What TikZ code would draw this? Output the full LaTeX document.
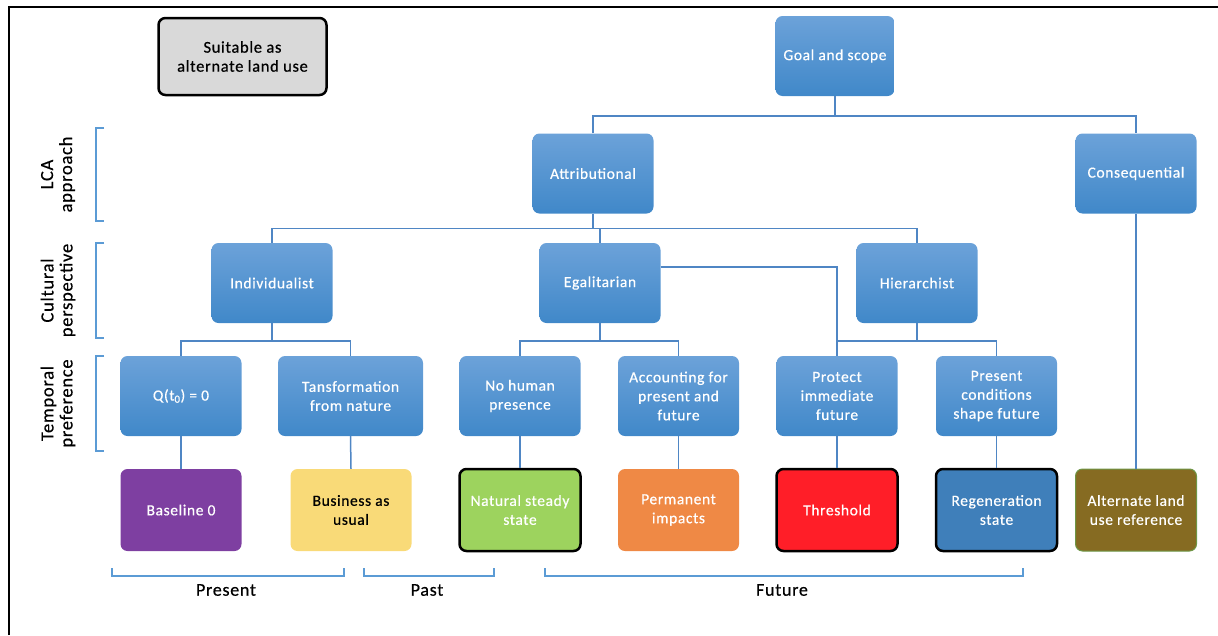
\documentclass[tikz,border=0pt]{standalone}
\usepackage{fontspec}
\setmainfont{Carlito}[FakeBold=0.5,LetterSpace=4]
\usepackage{tikz}
\definecolor{boxtop}{RGB}{108,162,217}
\definecolor{boxbot}{RGB}{64,136,201}
\definecolor{linkblue}{RGB}{79,134,196}
\definecolor{brkblue}{RGB}{91,155,213}
\definecolor{lcapurple}{RGB}{126,63,161}
\definecolor{lcayellow}{RGB}{249,218,120}
\definecolor{lcagreen}{RGB}{157,211,94}
\definecolor{lcaorange}{RGB}{239,137,69}
\definecolor{lcared}{RGB}{255,30,40}
\definecolor{lcablue}{RGB}{63,127,186}
\definecolor{lcaolive}{RGB}{134,107,34}
\definecolor{lcaoliveedge}{RGB}{110,150,70}
\definecolor{lcagray}{RGB}{217,217,217}

\begin{document}
\begin{tikzpicture}[x=1pt,y=-1pt,
    box/.style={rectangle,rounded corners=7pt,minimum width=121pt,minimum height=80pt,
        align=center,text=white,inner sep=2pt,font=\fontsize{15.5}{19}\selectfont},
    stage/.style={box,top color=boxtop,bottom color=boxbot},
    outcome/.style={box,minimum height=82pt},
    framed/.style={draw=black,line width=2.5pt},
    link/.style={linkblue,line width=1.5pt},
    brace/.style={brkblue,line width=1.3pt},
    side/.style={rotate=90,align=center,font=\fontsize{18.5}{19}\selectfont},
    period/.style={font=\fontsize{18}{19}\selectfont}]
    \useasboundingbox (0,0) rectangle (1218,635);
    
    % Frame
    \draw[line width=1.5pt] (9,635) -- (9,7) -- (1218,7);
    
    % Legend box
    \node[outcome,fill=lcagray,framed,text=black,minimum width=168pt,minimum height=77pt,
        font=\fontsize{16.5}{19}\selectfont] (suit) at (242.5,56.5) {Suitable as\\alternate land use};
    
    % LCA approach
    \node[stage,minimum width=119pt] (goal) at (835,56) {Goal and scope};
    \node[stage] (attr) at (593,173.5) {Attributional};
    \node[stage] (cons) at (1136,173.5) {Consequential};
    
    % Cultural perspective
    \node[stage] (indiv) at (272,283) {Individualist};
    \node[stage] (egal) at (600,283) {Egalitarian};
    \node[stage] (hier) at (917,283) {Hierarchist};
    
    % Temporal preference
    \node[stage] (qzero) at (181,396) {Q(t\textsubscript{0}) = 0};
    \node[stage,minimum width=145pt] (trans) at (350.5,396) {Tansformation\\from nature};
    \node[stage] (nohum) at (520,396) {No human\\presence};
    \node[stage] (acct) at (678.5,396) {Accounting for\\present and\\future};
    \node[stage] (prot) at (837,396) {Protect\\immediate\\future};
    \node[stage] (pres) at (996.5,396) {Present\\conditions\\shape future};
    
    % Reference states
    \node[outcome,fill=lcapurple] (base) at (181,510) {Baseline 0};
    \node[outcome,fill=lcayellow,text=black] (bau) at (351,510) {Business as\\usual};
    \node[outcome,fill=lcagreen,framed] (natural) at (520,510) {Natural steady\\state};
    \node[outcome,fill=lcaorange] (perm) at (678.5,510) {Permanent\\impacts};
    \node[outcome,fill=lcared,framed] (thresh) at (837,510) {Threshold};
    \node[outcome,fill=lcablue,framed] (regen) at (996.5,510) {Regeneration\\state};
    \node[outcome,fill=lcaolive,draw=lcaoliveedge,line width=1pt] (altref) at (1136,510) {Alternate land\\use reference};
    
    % Tree links
    \draw[link] (goal.south) -- ++(0,20) coordinate (g1);
    \draw[link] (attr.north) |- (g1) -| (cons.north);
    \draw[link] (attr.south) -- ++(0,15) coordinate (a1);
    \draw[link] (indiv.north) |- (a1) -| (hier.north);
    \draw[link] (egal.north) -- (egal.north |- a1);
    \draw[link] ([yshift=16pt]egal.east) -| (prot.north);
    \foreach \up/\left/\right in {indiv/qzero/trans,egal/nohum/acct,hier/prot/pres}{
        \draw[link] (\up.south) -- ++(0,18) coordinate (c1);
        \draw[link] (\left.north) |- (c1) -| (\right.north);
    }
    \foreach \up/\down in {qzero/base,trans/bau,nohum/natural,acct/perm,prot/thresh,pres/regen,cons/altref}
        \draw[link] (\up.south) -- (\down.north);
    
    % Side brackets
    \foreach \a/\b/\lbl/\nm in {128/221/{LCA\\approach}/lca,243/338/{Cultural\\perspective}/cult,356/451/{Temporal\\preference}/temp}{
        \draw[brace] (104,\a) -- (96,\a) -- (96,\b) -- (104,\b);
        \node[side] (\nm) at (58,{(\a+\b)/2}) {\lbl};
    }
    
    % Time brackets
    \foreach \a/\b/\lbl/\nm in {112/344/Present/present,364/494/Past/past,545/1023/Future/future}{
        \draw[brace] (\a,568) -- (\a,576) -- (\b,576) -- (\b,568);
        \node[period] (\nm) at ({(\a+\b)/2-2},590) {\lbl};
    }
\end{tikzpicture}
\end{document}
